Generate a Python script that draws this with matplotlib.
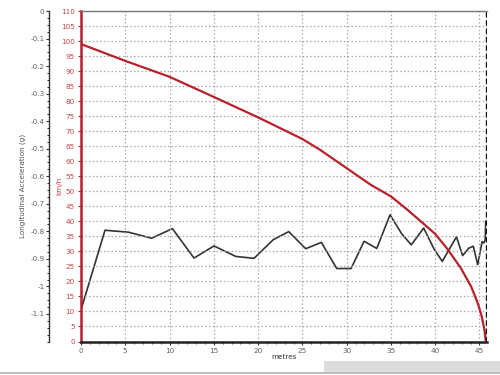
# braking run: speed (km/h) and longitudinal acceleration (g) against distance

import matplotlib
matplotlib.use('Agg')
import matplotlib.pyplot as plt
from matplotlib.ticker import MultipleLocator, FixedLocator, FuncFormatter
from matplotlib.lines import Line2D
from matplotlib.patches import Rectangle

plt.rcParams['axes.unicode_minus'] = False
plt.rcParams['font.family'] = 'DejaVu Sans'

# speed trace (red)
speed_m = [0, 5, 10, 15, 20, 23.2, 25, 27, 30, 32.7, 35, 36.8, 38.8, 40, 41.43,
           42.9, 44.06, 44.8, 45.26, 45.56, 45.7]
speed_kmh = [99.0, 93.4, 88.1, 81.4, 74.6, 70.0, 67.4, 63.8, 57.7, 52.2, 48.3,
             44.0, 38.9, 35.8, 30.6, 24.4, 18.3, 12.8, 8.3, 3.9, 0.3]

# longitudinal acceleration trace (dark grey)
acc_m = [0, 2.71, 4.22, 5.35, 7.98, 10.32, 12.76, 15.02, 17.47, 19.54, 21.72,
         23.46, 25.38, 27.15, 28.88, 30.5, 31.97, 33.4, 34.9, 36.22, 37.3, 38.7,
         39.9, 40.8, 42.4, 43.1, 43.8, 44.3, 44.8, 45.3, 45.5, 45.65, 45.7]
acc_g = [-1.085, -0.796, -0.800, -0.803, -0.825, -0.790, -0.897, -0.853, -0.891,
         -0.898, -0.830, -0.801, -0.863, -0.840, -0.935, -0.935, -0.836, -0.862,
         -0.740, -0.809, -0.849, -0.788, -0.866, -0.909, -0.820, -0.888, -0.861,
         -0.854, -0.921, -0.837, -0.842, -0.830, -0.764]
acc_ticks = [0, -0.1, -0.2, -0.3, -0.4, -0.5, -0.6, -0.7, -0.8, -0.9, -1, -1.1]

cursor_m = 45.74

red = '#b8202a'
red_txt = '#c84646'
grey_txt = '#606060'
fs = 5.2

fig = plt.figure(figsize=(5, 3.75), dpi=100)
ax = fig.add_axes([0.162, 0.0893, 0.812, 0.8813])

# km/h axis (red, inner left)
ax.plot(speed_m, speed_kmh, color=red, lw=1.6, zorder=4)
ax.set_xlim(0, 45.85)
ax.set_ylim(0, 110)
ax.yaxis.set_major_locator(MultipleLocator(5))
ax.xaxis.set_major_locator(MultipleLocator(5))
ax.xaxis.set_minor_locator(MultipleLocator(1))
ax.grid(True, which='major', color='#a8a8a8', linestyle=(0, (1.2, 1.8)), lw=0.9)
ax.tick_params(axis='y', colors=red, labelcolor=red_txt, labelsize=fs,
               length=2.5, width=0.8, pad=2)
ax.tick_params(axis='x', colors='#333333', labelcolor=grey_txt, labelsize=fs,
               length=2.5, width=0.8, pad=2)
ax.tick_params(axis='x', which='minor', length=1.5, width=0.6, colors='#333333')
ax.spines['left'].set_color(red)
ax.spines['left'].set_linewidth(1.8)
ax.spines['bottom'].set_color('#222222')
ax.spines['bottom'].set_linewidth(1.8)
ax.spines['top'].set_color('#777777')
ax.spines['top'].set_linewidth(1.0)
ax.spines['right'].set_visible(False)
ax.set_ylabel('km/h', color=red_txt, fontsize=fs)
ax.yaxis.set_label_coords(-0.046, 0.47)
ax.set_xlabel('metres', color='#333333', fontsize=fs)
ax.xaxis.set_label_coords(0.5, -0.038)

# cursor line at right edge
ax.axvline(cursor_m + 0.12, color='#bfeff5', lw=1.2, zorder=3)
ax.axvline(cursor_m, color='#111111', lw=1.0, linestyle=(0, (4, 2)), zorder=5)

# acceleration axis (outer left)
ax2 = ax.twinx()
ax2.plot(acc_m, acc_g, color='#333333', lw=1.2, zorder=3)
ax2.set_ylim(-1.2, 0)
ax2.yaxis.set_ticks_position('left')
ax2.yaxis.set_label_position('left')
ax2.spines['left'].set_visible(True)
ax2.spines['left'].set_position(('outward', 23))
ax2.spines['left'].set_color('#333333')
ax2.spines['left'].set_linewidth(1.0)
for s in ['right', 'top', 'bottom']:
    ax2.spines[s].set_visible(False)
ax2.yaxis.set_major_locator(FixedLocator(acc_ticks))
ax2.yaxis.set_minor_locator(MultipleLocator(0.025))
ax2.yaxis.set_major_formatter(FuncFormatter(lambda v, p: '%g' % (round(v, 2) + 0.0)))
ax2.tick_params(axis='y', colors='#333333', labelcolor=grey_txt, labelsize=fs,
                length=2, width=0.8, pad=1.2)
ax2.tick_params(axis='y', which='minor', length=1.3, width=0.6)
ax2.set_ylabel('Longitudinal Acceleration (g)', color='#555555', fontsize=fs)
ax2.yaxis.set_label_coords(-0.135, 0.47)
ax.set_zorder(ax2.get_zorder() + 1)
ax.patch.set_visible(False)

# window frame bits at the bottom
fig.add_artist(Line2D([0, 1], [1 - 373 / 375] * 2, color='#b0b0b0', lw=1.2))
fig.add_artist(Rectangle((324 / 500, 3 / 375), 176 / 500, 11 / 375,
                         facecolor='#dcdcdc', edgecolor='none'))

plt.savefig('out.png', dpi=100)
